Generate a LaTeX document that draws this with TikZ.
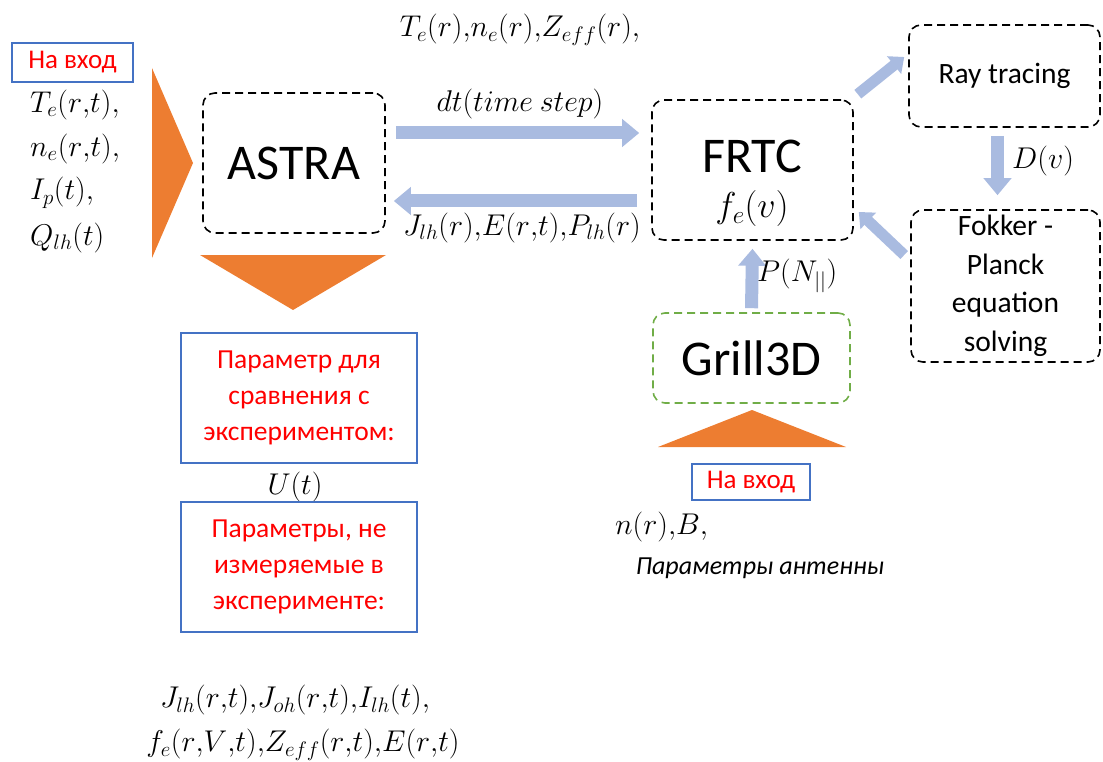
\RequirePackage{fix-cm}
\documentclass[tikz,border=0pt]{standalone}
\usepackage{fontspec}
\setmainfont{Carlito}
\usetikzlibrary{arrows.meta,calc}
\definecolor{arrowblue}{HTML}{A9BBE0}
\definecolor{triorange}{HTML}{ED7D31}
\definecolor{boxblue}{HTML}{4472C4}
\definecolor{grillgreen}{HTML}{70AD47}
\tikzset{
  dbox/.style={draw=black, line width=1.6pt, dash pattern=on 8pt off 5pt, rounded corners=12pt, align=center, inner sep=0pt},
  rbox/.style={draw=boxblue, line width=1.4pt, text=red, align=center, inner sep=0pt, font=\fontsize{27.5}{36}\selectfont},
  mtxt/.style={inner sep=0pt, font=\fontsize{30}{34}\selectfont},
  barrow/.style={draw=arrowblue, line width=13pt, -{Triangle[width=27pt,length=17pt]}},
  darrow/.style={draw=arrowblue, line width=11pt, -{Triangle[width=22pt,length=13pt]}},
  tri/.style={fill=triorange}
}
\begin{document}
\begin{tikzpicture}[x=1pt,y=-1pt]
\useasboundingbox (0,0) rectangle (1103,762);
% left input
\node[rbox, minimum width=121pt, minimum height=39pt, font=\fontsize{27}{30}\selectfont] (in1) at (72.5,62.5) {На вход};
\node[mtxt, anchor=west] (m1) at (30,105) {$T_e(r{,}t){,}$};
\node[mtxt, anchor=west] (m2) at (30,149) {$n_e(r{,}t){,}$};
\node[mtxt, anchor=west] (m3) at (30,193) {$I_p(t){,}$};
\node[mtxt, anchor=west] (m4) at (30,238) {$Q_{lh}(t)$};
\fill[tri] (152,68) -- (193,163) -- (152,258) -- cycle;
% ASTRA
\node[dbox, minimum width=182pt, minimum height=140pt, font=\fontsize{50}{56}\selectfont] (astra) at (294,163) {ASTRA};
\fill[tri] (200,255) -- (386,255) -- (293,310) -- cycle;
\node[rbox, minimum width=236pt, minimum height=130pt] (cmp) at (299,398) {Параметр для\\сравнения с\\экспериментом:};
\node[mtxt] (u) at (295,487) {$U(t)$};
\node[rbox, minimum width=236pt, minimum height=130pt] (nm) at (299,567) {Параметры, не\\измеряемые в\\эксперименте:};
\node[mtxt] (out1) at (295,700) {$J_{lh}(r{,}t){,}J_{oh}(r{,}t){,}I_{lh}(t){,}$};
\node[mtxt] (out2) at (303,745) {$f_e(r{,}V{,}t){,}Z_{eff}(r{,}t){,}E(r{,}t)$};
% FRTC
\node[dbox, minimum width=201pt, minimum height=140pt] (frtc) at (752.5,170) {};
\node[font=\fontsize{50}{56}\selectfont, inner sep=0pt] (frtcl) at (752,156) {FRTC};
\node[font=\fontsize{36}{40}\selectfont, inner sep=0pt] (fev) at (752,209) {$f_e(v)$};
% texts between
\node[mtxt] (top) at (520,30) {$T_e(r){,}n_e(r){,}Z_{eff}(r){,}$};
\node[mtxt] (dt) at (520,104) {$dt(time\ step)$};
\node[mtxt] (jl) at (522,228) {$J_{lh}(r){,}E(r{,}t){,}P_{lh}(r)$};
\draw[barrow] ($(astra.east)+(10,-30)$) -- ($(astra.east -| frtc.west)+(-12,-30)$);
\draw[barrow] ($(astra.east -| frtc.west)+(-14,38)$) -- ($(astra.east)+(8,38)$);
% Ray tracing
\node[dbox, minimum width=191pt, minimum height=102pt, font=\fontsize{29.5}{38}\selectfont] (ray) at (1004.5,76) {Ray tracing};
\node[dbox, minimum width=189pt, minimum height=152pt, font=\fontsize{29.5}{38.5}\selectfont] (fp) at (1005.5,286) {Fokker -\\Planck\\equation\\solving};
\draw[darrow] ($(frtc.north east)+(4,-5)$) -- ($(ray.west)+(-4,-19)$);
\draw[barrow] ($(ray.south)+(-7,8)$) -- ($(fp.north)+(-8,-14)$);
\node[mtxt, anchor=west] (dv) at (1012,161) {$D(v)$};
\draw[darrow] ($(fp.west)+(-6,-31)$) -- ($(frtc.east)+(5,42)$);
% Grill3D
\node[dbox, draw=grillgreen, minimum width=197pt, minimum height=90pt, font=\fontsize{50}{56}\selectfont] (grill) at (751.5,358) {Grill3D};
\draw[barrow] ($(grill.north)+(0,-4)$) -- ($(frtc.south)+(0,8)$);
\node[mtxt, anchor=west] (pn) at (757,276) {$P(N_{||})$};
\fill[tri] (658,447) -- (752,410) -- (846,447) -- cycle;
\node[rbox, minimum width=118pt, minimum height=36pt, font=\fontsize{27}{30}\selectfont] (in2) at (751,482) {На вход};
\node[mtxt, anchor=west] (nb) at (615,527) {$n(r){,}B{,}$};
\node[inner sep=0pt, font=\fontsize{26}{30}\selectfont\itshape] (ant) at (760,568) {Параметры антенны};
\end{tikzpicture}
\end{document}
